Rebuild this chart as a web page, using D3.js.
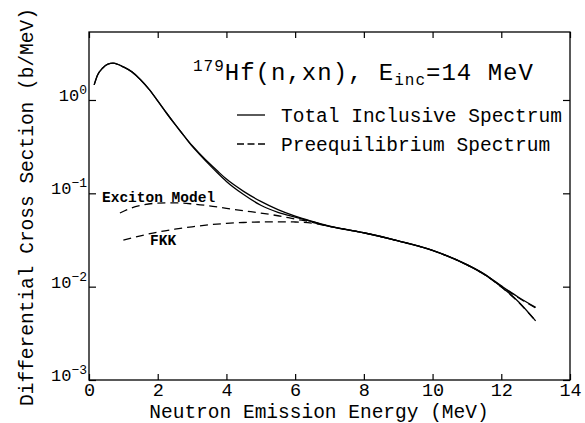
<!DOCTYPE html>
<html>
<head>
<meta charset="utf-8">
<script src="https://cdn.jsdelivr.net/npm/d3@7"></script>
<style>
  html, body { margin: 0; padding: 0; background: #fff; }
</style>
</head>
<body>
<script>
// Hf-179 (n,xn) neutron emission spectrum, log y axis.

// ---------------------------------------------------------------------------
// Data
// ---------------------------------------------------------------------------

const totalEnergy = [0.15, 0.25, 0.4, 0.55, 0.7, 0.85, 1.0, 1.25, 1.5, 1.75, 2.0, 2.25, 2.5, 2.75,
  3.0, 3.25, 3.5, 3.75, 4.0, 4.5, 5.0, 5.5, 6.0, 6.5, 7, 8, 9, 10, 11, 11.5, 12, 12.5, 13];
const totalExciton = [1.45, 1.85, 2.2, 2.42, 2.48, 2.4, 2.26, 2.0, 1.65, 1.3, 0.98, 0.73, 0.55, 0.42,
  0.325, 0.26, 0.21, 0.172, 0.142, 0.105, 0.082, 0.067, 0.057, 0.050, 0.0445, 0.0378, 0.0310, 0.0245, 0.0172, 0.0137, 0.0102, 0.0077, 0.0060];
const totalFkk = [1.45, 1.85, 2.2, 2.42, 2.48, 2.4, 2.26, 2.0, 1.65, 1.3, 0.98, 0.73, 0.55, 0.42,
  0.32, 0.254, 0.203, 0.164, 0.134, 0.097, 0.0745, 0.0625, 0.0555, 0.0497, 0.0443, 0.0378, 0.0310, 0.0245, 0.0172, 0.0136, 0.0100, 0.0069, 0.0043];

const excitonEnergy = [0.9, 1.2, 1.5, 2.0, 2.5, 3.0, 3.5, 4.0, 4.5, 5.0, 5.5, 6.0, 6.5, 7, 8, 9, 10, 11, 11.5, 12, 12.5, 13];
const excitonPre = [0.0616, 0.069, 0.074, 0.0785, 0.079, 0.077, 0.0735, 0.069, 0.065, 0.0615, 0.0575, 0.053, 0.049,
  0.0443, 0.0377, 0.0309, 0.0244, 0.0171, 0.0136, 0.0101, 0.0076, 0.0059];

const fkkEnergy = [1.0, 1.5, 2.0, 2.5, 3.0, 3.5, 4.0, 4.5, 5.0, 5.5, 6.0, 6.5, 7, 8, 9, 10, 11, 11.5, 12, 12.5, 13];
const fkkPre = [0.0316, 0.035, 0.0385, 0.0413, 0.0438, 0.046, 0.0476, 0.0487, 0.0493, 0.0495, 0.0493, 0.0478,
  0.0442, 0.0377, 0.0309, 0.0244, 0.0171, 0.0135, 0.0099, 0.0068, 0.0043];

const xTicks = [0, 2, 4, 6, 8, 10, 12, 14];
const yTicks = [1e-3, 1e-2, 1e-1, 1];
const yExponents = ["−3", "−2", "−1", "0"];

// ---------------------------------------------------------------------------
// Setup
// ---------------------------------------------------------------------------

const width = 585;
const height = 423;
const margin = { top: 32, right: 15, bottom: 43, left: 89 };
const FONT = "'Liberation Mono', 'DejaVu Sans Mono', monospace";

const svg = d3.select("body")
  .append("svg")
  .attr("width", width)
  .attr("height", height)
  .attr("font-family", FONT);

svg.append("rect").attr("width", width).attr("height", height).attr("fill", "#fff");

const x = d3.scaleLinear().domain([0, 14]).range([margin.left, width - margin.right]);
const y = d3.scaleLog().domain([1e-3, 5.35]).range([height - margin.bottom, margin.top]);

const line = d3.line()
  .x((d) => x(d[0]))
  .y((d) => y(d[1]))
  .curve(d3.curveMonotoneX);

function pairs(xs, ys) {
  return xs.map((e, i) => [e, ys[i]]);
}

// ---------------------------------------------------------------------------
// Axes — ticks on all four sides, pointing inward
// ---------------------------------------------------------------------------

const x0 = margin.left, x1 = width - margin.right;
const y0 = height - margin.bottom, y1 = margin.top;

svg.append("g")
  .attr("transform", `translate(0,${y0})`)
  .call(d3.axisBottom(x).tickValues(xTicks).tickSize(-6).tickSizeOuter(0).tickPadding(3))
  .call((g) => g.select(".domain").remove())
  .call((g) => g.selectAll("text").attr("font-family", FONT).attr("font-size", 18.5).attr("fill", "#000"));

svg.append("g")
  .attr("transform", `translate(0,${y1})`)
  .call(d3.axisTop(x).tickValues(xTicks).tickSize(-6).tickSizeOuter(0).tickFormat(""))
  .call((g) => g.select(".domain").remove());

svg.append("g")
  .attr("transform", `translate(${x0},0)`)
  .call(d3.axisLeft(y).tickValues(yTicks).tickSize(-7).tickSizeOuter(0).tickFormat(""))
  .call((g) => g.select(".domain").remove());

svg.append("g")
  .attr("transform", `translate(${x1},0)`)
  .call(d3.axisRight(y).tickValues(yTicks).tickSize(-7).tickSizeOuter(0).tickFormat(""))
  .call((g) => g.select(".domain").remove());

svg.selectAll(".tick line").attr("stroke", "#000").attr("stroke-width", 1.2);

// y tick labels with superscript exponents
yTicks.forEach((v, i) => {
  const t = svg.append("text")
    .attr("x", x0 - 2)
    .attr("y", y(v) + 1)
    .attr("text-anchor", "end")
    .attr("font-size", 17)
    .attr("fill", "#000");
  t.append("tspan").text("10");
  t.append("tspan").attr("dy", -7).attr("font-size", 13).text(yExponents[i]);
});

// frame
svg.append("rect")
  .attr("x", x0).attr("y", y1)
  .attr("width", x1 - x0).attr("height", y0 - y1)
  .attr("fill", "none")
  .attr("stroke", "#000")
  .attr("stroke-width", 1.3);

// axis titles
svg.append("text")
  .attr("x", 319)
  .attr("y", 418)
  .attr("text-anchor", "middle")
  .attr("font-size", 19.5)
  .text("Neutron Emission Energy (MeV)");

svg.append("text")
  .attr("transform", `translate(33,${(y0 + y1) / 2 + 1}) rotate(-90)`)
  .attr("text-anchor", "middle")
  .attr("font-size", 19.5)
  .text("Differential Cross Section (b/MeV)");

// ---------------------------------------------------------------------------
// Curves
// ---------------------------------------------------------------------------

const curves = svg.append("g").attr("fill", "none").attr("stroke", "#000");

curves.append("path").attr("d", line(pairs(totalEnergy, totalExciton))).attr("stroke-width", 1.3);
curves.append("path").attr("d", line(pairs(totalEnergy, totalFkk))).attr("stroke-width", 1.3);
curves.append("path").attr("d", line(pairs(excitonEnergy, excitonPre)))
  .attr("stroke-width", 1.3).attr("stroke-dasharray", "8,5");
curves.append("path").attr("d", line(pairs(fkkEnergy, fkkPre)))
  .attr("stroke-width", 1.3).attr("stroke-dasharray", "8,5");

// curve labels
svg.append("text")
  .attr("x", 102).attr("y", 202)
  .attr("font-size", 14.5).attr("font-weight", "bold")
  .text("Exciton Model");

svg.append("text")
  .attr("x", 150).attr("y", 245)
  .attr("font-size", 14.5).attr("font-weight", "bold")
  .text("FKK");

// ---------------------------------------------------------------------------
// Title and legend
// ---------------------------------------------------------------------------

const title = svg.append("text").attr("x", 193).attr("y", 80)
  .attr("font-size", 24).attr("letter-spacing", 1);
title.append("tspan").attr("font-size", 16).attr("dy", -9).text("179");
title.append("tspan").attr("dy", 9).text("Hf(n,xn), E");
title.append("tspan").attr("font-size", 16).attr("dy", 5).text("inc");
title.append("tspan").attr("dy", -5).text("=14 MeV");

const legendItems = [
  { label: "Total Inclusive Spectrum", dash: null, y: 115 },
  { label: "Preequilibrium Spectrum", dash: "7,3.5", y: 144 },
];

legendItems.forEach((d) => {
  svg.append("line")
    .attr("x1", 237).attr("x2", 265)
    .attr("y1", d.y).attr("y2", d.y)
    .attr("stroke", "#000").attr("stroke-width", 1.3)
    .attr("stroke-dasharray", d.dash);
  svg.append("text")
    .attr("x", 281).attr("y", d.y + 7)
    .attr("font-size", 19.5)
    .text(d.label);
});
</script>
</body>
</html>
